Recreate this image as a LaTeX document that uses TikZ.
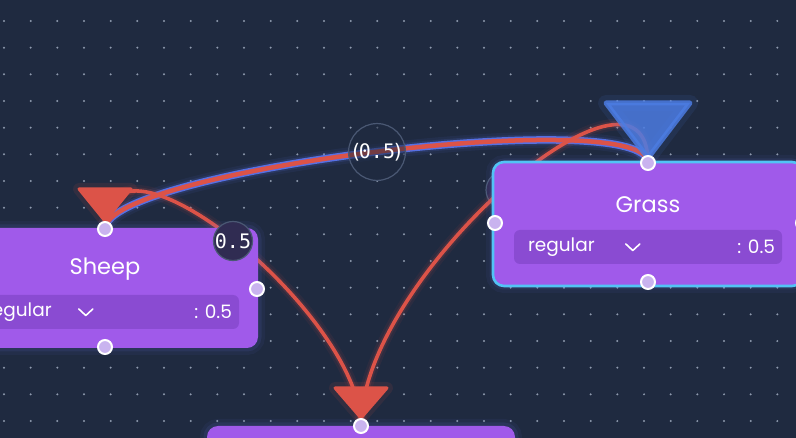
\documentclass[tikz,border=0pt]{standalone}
\usepackage{fontspec}
\setmainfont{Poppins}
\newfontfamily\monofont{DejaVu Sans Mono}
\usetikzlibrary{calc}
\definecolor{bg}{HTML}{1F2A40}
\definecolor{dotc}{HTML}{8E9AAE}
\definecolor{nodefill}{HTML}{A05AEA}
\definecolor{rowfill}{HTML}{8A4BD2}
\definecolor{edgered}{HTML}{DC5348}
\definecolor{edgeblue}{HTML}{5670E4}
\definecolor{arrowblue}{HTML}{4C7CE2}
\definecolor{selc}{HTML}{52C3F5}
\definecolor{handlefill}{HTML}{C9B3EF}
\definecolor{labfill}{HTML}{302C52}
\definecolor{labedge}{HTML}{4A5873}
\definecolor{glowc}{HTML}{6C7BEA}
\tikzset{
  box/.style={rectangle, rounded corners=11pt, fill=nodefill, inner sep=0pt,
    preaction={draw=glowc, line width=14pt, draw opacity=0.06},
    preaction={draw=glowc, line width=7pt, draw opacity=0.10}},
  rowbox/.style={rectangle, rounded corners=6pt, fill=rowfill, inner sep=0pt,
    minimum width=268pt, minimum height=34pt},
  titletxt/.style={text=white, font=\fontsize{22.5}{22.5}\selectfont, inner sep=0pt},
  rowtxt/.style={text=white, font=\fontsize{18.5}{18.5}\selectfont, inner sep=0pt},
  handle/.style={circle, draw=white, line width=2pt, fill=handlefill, minimum size=14pt, inner sep=0pt},
  labc/.style={circle, minimum size=38pt, inner sep=0pt, draw=labedge, line width=1.2pt,
    text=white, font=\monofont\fontsize{20}{20}\selectfont},
  rededge/.style={draw=edgered, line width=3.6pt,
    preaction={draw=edgered, line width=12pt, draw opacity=0.07},
    preaction={draw=edgered, line width=7pt, draw opacity=0.14}},
  chev/.style={draw=white, line width=1.6pt, line cap=round, line join=round},
  redarrow/.style={fill=edgered, draw=edgered, line width=3pt, line join=round,
    preaction={draw=edgered, line width=12pt, draw opacity=0.10, line join=round}},
}
\begin{document}
\begin{tikzpicture}[x=1pt,y=-1pt]
\useasboundingbox (0,0) rectangle (796,438);
\fill[bg] (0,0) rectangle (796,438);
\foreach \i in {0,...,29}{
  \foreach \j in {0,...,16}{
    \fill[dotc] ({4+\i*26.667},{21+\j*26.667}) circle (1.1);
  }
}
% coordinate anchors
\coordinate (sheeptop) at (105,229);
\coordinate (grasstop) at (648,163);
\coordinate (bottop) at (361,426);

% hidden label behind grass
\node[labc, fill=labfill] (labhid) at (505,190) {};

% edges
\draw[draw=edgeblue, line width=7.5pt,
  preaction={draw=edgeblue, line width=16pt, draw opacity=0.08},
  preaction={draw=edgeblue, line width=11pt, draw opacity=0.14}]
  (sheeptop) .. controls +(0,-59) and +(0,-59) .. (grasstop);
\draw[draw=edgered, line width=4.5pt]
  (sheeptop) .. controls +(0,-59) and +(0,-59) .. (grasstop);
\draw[rededge] (sheeptop) .. controls +(0,-124) and +(0,-112) .. (bottop);
\draw[rededge] (grasstop) .. controls +(0,-134) and +(0,-150) .. (bottop);

% label on the double edge
\node[labc, fill=bg, fill opacity=0.55, text opacity=1] (labmid) at (377,152) {(\kern-3pt0.5\kern-3pt)};

% blue arrowhead at grass
\fill[arrowblue, fill opacity=0.85, draw=arrowblue, draw opacity=0.85, line width=5pt, line join=round,
  preaction={draw=arrowblue, line width=16pt, draw opacity=0.10, line join=round}]
  ([shift={(-42,-60)}]grasstop) -- ([shift={(42,-60)}]grasstop) -- ([shift={(0,-5)}]grasstop) -- cycle;
% red arrowheads
\filldraw[redarrow] ([shift={(-26,-40)}]sheeptop) -- ([shift={(26,-40)}]sheeptop) -- ([shift={(0,-8)}]sheeptop) -- cycle;
\filldraw[redarrow] ([shift={(-26,-38)}]bottop) -- ([shift={(26,-38)}]bottop) -- ([shift={(0,-8)}]bottop) -- cycle;

% nodes
\node[box, minimum width=306pt, minimum height=120pt] (sheep) at (105,288) {};
\node[box, minimum width=310pt, minimum height=124pt, draw=selc, line width=2.6pt] (grass) at (648,224) {};
\node[box, minimum width=308pt, minimum height=60pt] (bot) at (361,456) {};

% sheep content
\node[titletxt] (sheeptitle) at ([yshift=19pt]sheep.center) {Sheep};
\node[rowbox] (sheeprow) at ([yshift=-24pt]sheep.center) {};
\node[rowtxt, anchor=west] (sheepreg) at ([xshift=14pt]sheeprow.west) {regular};
\node[rowtxt, anchor=east] (sheepval) at ([xshift=-7pt]sheeprow.east) {: 0.5};
\draw[chev] ([shift={(108,-3)}]sheeprow.west) -- ([shift={(115,3.5)}]sheeprow.west) -- ([shift={(122,-3)}]sheeprow.west);

% grass content
\node[titletxt] (grasstitle) at ([yshift=19pt]grass.center) {Grass};
\node[rowbox] (grassrow) at ([yshift=-23pt]grass.center) {};
\node[rowtxt, anchor=west] (grassreg) at ([xshift=14pt]grassrow.west) {regular};
\node[rowtxt, anchor=east] (grassval) at ([xshift=-7pt]grassrow.east) {: 0.5};
\draw[chev] ([shift={(112,-3)}]grassrow.west) -- ([shift={(119,3.5)}]grassrow.west) -- ([shift={(126,-3)}]grassrow.west);

% label on sheep -> bottom edge (above the node)
\node[labc, fill=labfill] (labsheep) at (233,241) {0.5};

% handles
\node[handle] (h1) at (sheeptop) {};
\node[handle] (h2) at (105,347) {};
\node[handle] (h3) at (257,289) {};
\node[handle] (h4) at (grasstop) {};
\node[handle] (h5) at (648,282) {};
\node[handle] (h6) at (495,223) {};
\node[handle] (h7) at (803,223) {};
\node[handle] (h8) at (bottop) {};
\end{tikzpicture}
\end{document}
